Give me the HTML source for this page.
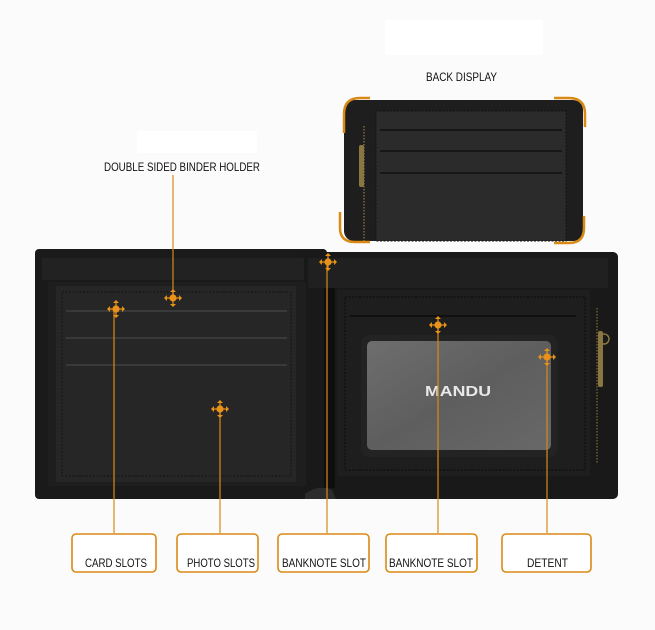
<!DOCTYPE html>
<html><head><meta charset="utf-8"><style>
html,body{margin:0;padding:0;background:#fbfbfb;}
svg{display:block;}
text{font-family:"Liberation Sans",sans-serif;}
</style></head><body>
<svg width="655" height="630" viewBox="0 0 655 630" xmlns="http://www.w3.org/2000/svg">
<defs>
<g id="m">
 <circle r="3.6" fill="#e8921a"/>
 <path d="M-9 0 L-6 -3 L-6 3Z M9 0 L6 -3 L6 3Z M0 -9 L-3 -6 L3 -6Z M0 9 L-3 6 L3 6Z" fill="#e8921a"/>
 <path d="M-6 0H6M0 -6V6" stroke="#e8921a" stroke-width="1.2"/>
</g>
<linearGradient id="win" x1="0" y1="0" x2="1" y2="1">
 <stop offset="0" stop-color="#6e6e6e"/><stop offset="0.5" stop-color="#5e5e5e"/><stop offset="1" stop-color="#686868"/>
</linearGradient>
</defs>
<rect width="655" height="630" fill="#fbfbfb"/>
<rect x="385" y="20" width="158" height="35" fill="#fff"/>
<rect x="137" y="131" width="120" height="22" fill="#fff"/>
<text x="426" y="81" font-size="12" fill="#111" textLength="71" lengthAdjust="spacingAndGlyphs">BACK DISPLAY</text>
<text x="104" y="171" font-size="12" fill="#111" textLength="156" lengthAdjust="spacingAndGlyphs">DOUBLE SIDED BINDER HOLDER</text>

<!-- back display -->
<rect x="344" y="100" width="239" height="141" rx="10" fill="#1e1e1e"/>
<rect x="376" y="111" width="190" height="130" fill="#2b2b2b"/>
<rect x="376" y="111" width="190" height="130" fill="none" stroke="#111" stroke-dasharray="2 1.5" stroke-width="1"/>
<line x1="380" y1="130" x2="562" y2="130" stroke="#111" stroke-width="1.5"/>
<line x1="380" y1="151" x2="562" y2="151" stroke="#111" stroke-width="1.5"/>
<line x1="380" y1="173" x2="562" y2="173" stroke="#111" stroke-width="1.5"/>
<line x1="364" y1="126" x2="364" y2="241" stroke="#7a6a3a" stroke-width="1.5" stroke-dasharray="1.5 1.5"/>
<rect x="359" y="145" width="5" height="42" rx="2" fill="#8a7640"/>
<path d="M344 133 V114 Q344 98 360 98 H370" fill="none" stroke="#d98a14" stroke-width="2.5"/>
<path d="M554 98 H569 Q585 98 585 114 V127" fill="none" stroke="#d98a14" stroke-width="2.5"/>
<path d="M340 212 V228 Q340 242 355 242 H370" fill="none" stroke="#d98a14" stroke-width="2.5"/>
<path d="M554 243 H569 Q584 243 584 228 V216" fill="none" stroke="#d98a14" stroke-width="2.5"/>

<!-- wallet -->
<rect x="35" y="249" width="292" height="250" rx="4" fill="#1a1a1a"/>
<rect x="302" y="252" width="316" height="247" rx="5" fill="#191919"/>
<rect x="42" y="258" width="262" height="22" fill="#222"/>
<rect x="308" y="258" width="300" height="30" fill="#202020"/>
<rect x="48" y="282" width="258" height="204" fill="#1e1e1e"/>
<rect x="56" y="286" width="240" height="196" fill="#262626"/>
<rect x="62" y="292" width="229" height="184" fill="none" stroke="#111" stroke-dasharray="2 1.5"/>
<line x1="66" y1="311" x2="287" y2="311" stroke="#3c3c3c" stroke-width="1.8"/>
<line x1="66" y1="338" x2="287" y2="338" stroke="#3c3c3c" stroke-width="1.8"/>
<line x1="66" y1="365" x2="287" y2="365" stroke="#3c3c3c" stroke-width="1.8"/>
<rect x="324" y="288" width="11" height="200" fill="#0e0e0e"/>
<rect x="337" y="290" width="253" height="186" fill="#1e1e1e"/>
<rect x="345" y="297" width="240" height="173" fill="none" stroke="#0a0a0a" stroke-dasharray="2 1.5"/>
<line x1="350" y1="316" x2="576" y2="316" stroke="#0c0c0c" stroke-width="1.5"/>
<rect x="361" y="335" width="196" height="122" rx="8" fill="#232323"/>
<rect x="367" y="341" width="184" height="109" rx="5" fill="url(#win)"/>
<text x="425" y="396" font-size="15" font-weight="bold" fill="#e8e8e8" textLength="66" lengthAdjust="spacingAndGlyphs">MANDU</text>
<line x1="597" y1="308" x2="597" y2="463" stroke="#6b5c2e" stroke-width="1.5" stroke-dasharray="1.5 1.5"/>
<rect x="598" y="331" width="5" height="56" rx="2" fill="#8a7640"/>
<circle cx="604" cy="339" r="5" fill="none" stroke="#8a7640" stroke-width="1.5"/>
<path d="M305 494 Q318 484 332 490 L336 499 H305Z" fill="#2c2c2c"/>

<!-- leader lines -->
<g stroke="#d98a14" stroke-width="1.2">
<line x1="173" y1="175" x2="173" y2="297"/>
<line x1="114" y1="310" x2="114" y2="533"/>
<line x1="220" y1="409" x2="220" y2="533"/>
<line x1="327" y1="262" x2="327" y2="533"/>
<line x1="438" y1="325" x2="438" y2="533"/>
<line x1="547" y1="357" x2="547" y2="533"/>
</g>
<use href="#m" x="173" y="298"/>
<use href="#m" x="116" y="309"/>
<use href="#m" x="220" y="409"/>
<use href="#m" x="328" y="262"/>
<use href="#m" x="438" y="325"/>
<use href="#m" x="547" y="357"/>

<!-- label boxes -->
<g fill="#fff" stroke="#d98a14" stroke-width="1.6">
<rect x="72" y="534" width="84" height="38" rx="4"/>
<rect x="177" y="534" width="81" height="38" rx="4"/>
<rect x="278" y="534" width="91" height="38" rx="4"/>
<rect x="386" y="534" width="91" height="38" rx="4"/>
<rect x="502" y="534" width="89" height="38" rx="4"/>
</g>
<g font-size="12" fill="#111">
<text x="85" y="567" textLength="62" lengthAdjust="spacingAndGlyphs">CARD SLOTS</text>
<text x="187" y="567" textLength="68" lengthAdjust="spacingAndGlyphs">PHOTO SLOTS</text>
<text x="282" y="567" textLength="84" lengthAdjust="spacingAndGlyphs">BANKNOTE SLOT</text>
<text x="389" y="567" textLength="84" lengthAdjust="spacingAndGlyphs">BANKNOTE SLOT</text>
<text x="527" y="567" textLength="41" lengthAdjust="spacingAndGlyphs">DETENT</text>
</g>
</svg>
</body></html>
